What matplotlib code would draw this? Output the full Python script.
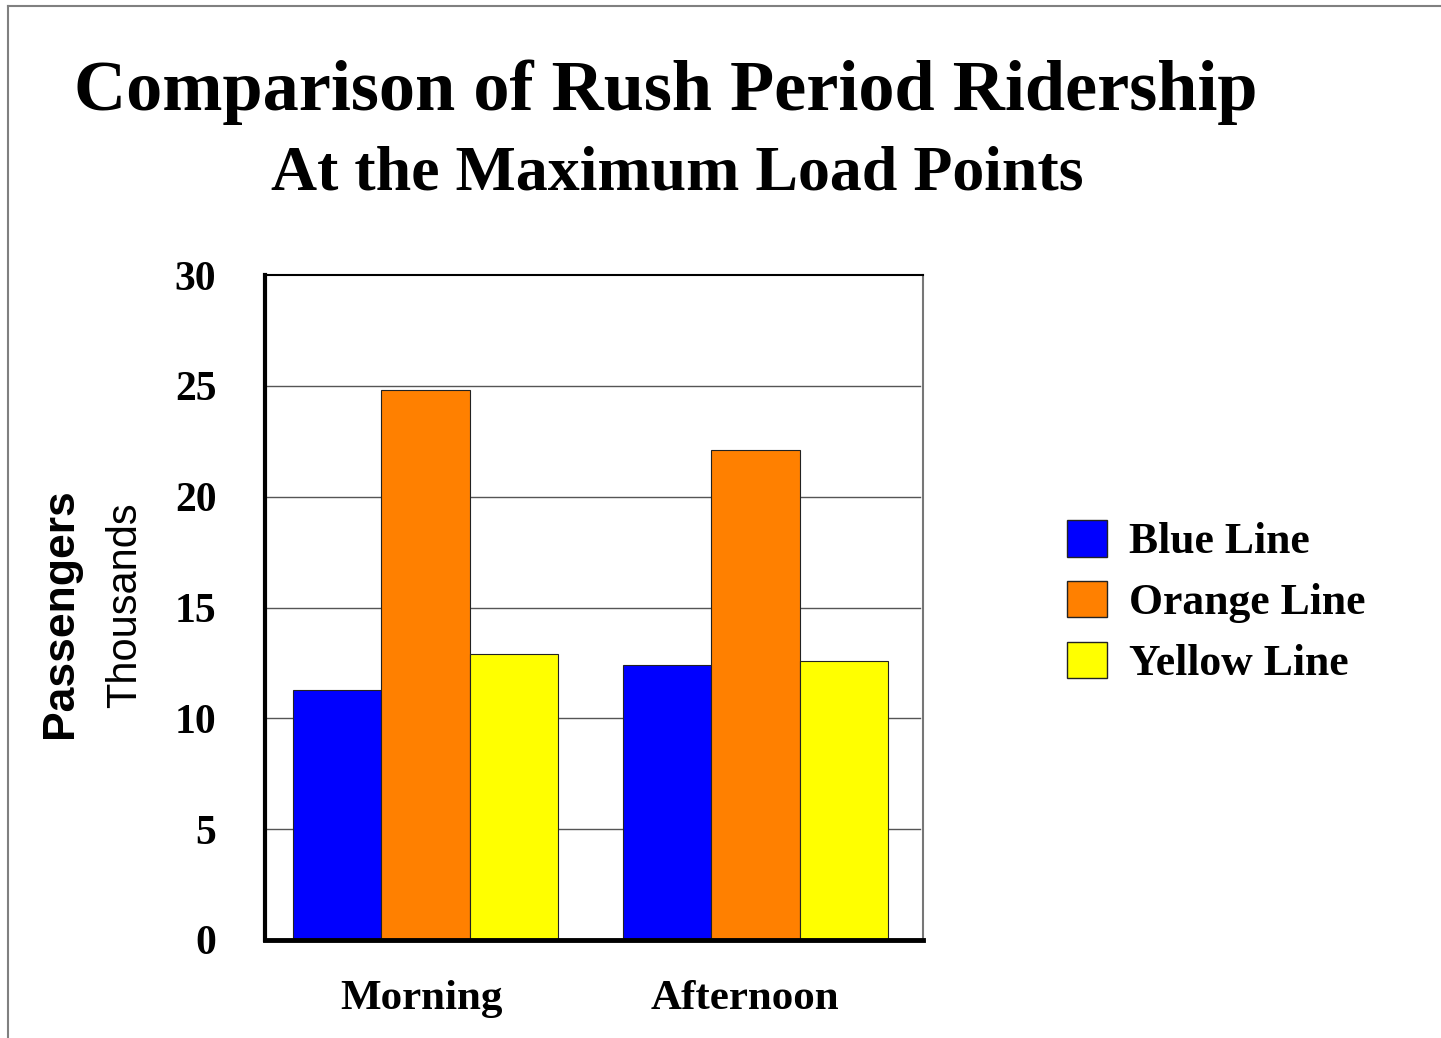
import matplotlib
matplotlib.use("Agg")
import matplotlib.pyplot as plt
import matplotlib.transforms as mtransforms
import numpy as np
from matplotlib.lines import Line2D
from matplotlib.patches import Patch

categories = ["Morning", "Afternoon"]
series_names = ["Blue Line", "Orange Line", "Yellow Line"]
blue_line = [11.3, 12.4]
orange_line = [24.8, 22.1]
yellow_line = [12.9, 12.6]
colors = ["#0000FF", "#FF8000", "#FFFF00"]
yticks = [0, 5, 10, 15, 20, 25, 30]

W, H = 1441, 1038
fig = plt.figure(figsize=(W / 100, H / 100), dpi=100)
fig.patch.set_facecolor("white")

ax = fig.add_axes([265 / W, 1 - 940 / H, (923 - 265) / W, (940 - 275) / H])
x = np.arange(len(categories))
bw = 0.2676
for i, (vals, c) in enumerate(zip([blue_line, orange_line, yellow_line], colors)):
    ax.bar(x + (i - 1) * bw, vals, width=bw, color=c, edgecolor="#222222",
           linewidth=0.8, zorder=3)

ax.set_xlim(-0.486, 1.508)
ax.set_ylim(0, 30)
ax.set_yticks(yticks)
ax.set_yticklabels([str(t) for t in yticks], fontfamily="Liberation Serif",
                   fontweight="bold", fontsize=30)
ax.set_xticks(x)
ax.set_xticklabels(categories, fontfamily="Liberation Serif", fontweight="bold",
                   fontsize=31)
ax.tick_params(axis="y", length=0, pad=35)
ax.tick_params(axis="x", length=0, pad=29)
shifts = [-4, -10]
for lbl, dx in zip(ax.get_xticklabels(), shifts):
    lbl.set_transform(lbl.get_transform() +
                      mtransforms.ScaledTranslation(dx / 100, 0, fig.dpi_scale_trans))
for t in yticks[1:-1]:
    ax.axhline(t, xmin=0, xmax=0.995, color="#555555", linewidth=1.0, zorder=1)

ax.spines["left"].set_linewidth(3)
ax.spines["left"].set_color("black")
ax.spines["bottom"].set_linewidth(3.5)
ax.spines["bottom"].set_color("black")
ax.spines["top"].set_linewidth(1.5)
ax.spines["top"].set_color("black")
ax.spines["right"].set_linewidth(1.5)
ax.spines["right"].set_color("#777777")
for s in ax.spines.values():
    s.set_zorder(4)

# y axis labels
fig.text(60 / W, 1 - 613 / H, "Passengers", rotation=90, ha="center", va="center",
         fontfamily="Liberation Sans", fontweight="bold", fontsize=32)
fig.text(125 / W, 1 - 605 / H, "Thousands", rotation=90, ha="center", va="center",
         fontfamily="Liberation Sans", fontsize=30)

# titles
fig.text(666 / W, 1 - 110 / H, "Comparison of Rush Period Ridership", ha="center",
         va="baseline", fontfamily="Liberation Serif", fontweight="bold", fontsize=52)
fig.text(677 / W, 1 - 190 / H, "At the Maximum Load Points", ha="center",
         va="baseline", fontfamily="Liberation Serif", fontweight="bold", fontsize=46)

# legend
handles = [Patch(facecolor=c, edgecolor="#222222", linewidth=1) for c in colors]
leg = fig.legend(handles, series_names, loc="upper left",
                 bbox_to_anchor=(1045 / W, 1 - 498 / H), frameon=False,
                 prop={"family": "Liberation Serif", "weight": "bold", "size": 31.5},
                 handlelength=0.915, handleheight=0.915, handletextpad=0.5,
                 labelspacing=0.42, borderpad=0)

# frame lines
fig.add_artist(Line2D([8 / W, 8 / W], [0, 1 - 6 / H], color="#808080", linewidth=1.5,
                      transform=fig.transFigure))
fig.add_artist(Line2D([8 / W, 1], [1 - 6 / H, 1 - 6 / H], color="#808080",
                      linewidth=1.5, transform=fig.transFigure))

fig.savefig("out.png", dpi=100, facecolor="white")
